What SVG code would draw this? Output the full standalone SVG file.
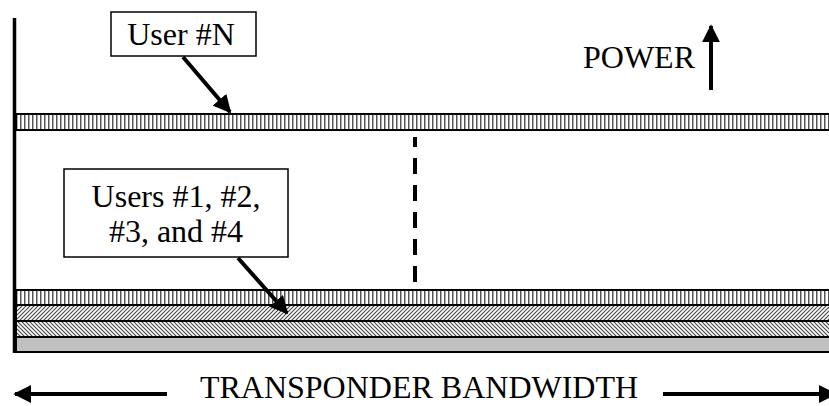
<svg xmlns="http://www.w3.org/2000/svg" width="829" height="406" viewBox="0 0 829 406">
<style>
text{font-family:"Liberation Serif","Times New Roman",serif;font-size:32px;fill:#000}
.box{fill:#fff;stroke:#000;stroke-width:1.5}
.bar{stroke:#000;stroke-width:2}
.conn{stroke:#000;stroke-width:4;fill:none}
</style>
<defs>
<pattern id="vert" patternUnits="userSpaceOnUse" width="4" height="4">
<rect width="4" height="4" fill="#fff"/>
<rect x="0" y="0" width="1.5" height="4" fill="#555"/>
</pattern>
<pattern id="fwd" patternUnits="userSpaceOnUse" width="4" height="4">
<rect width="4" height="4" fill="#fff"/>
<path d="M-1,1 L1,-1 M0,4 L4,0 M3,5 L5,3" stroke="#444" stroke-width="1.1"/>
</pattern>
<pattern id="back" patternUnits="userSpaceOnUse" width="4" height="4">
<rect width="4" height="4" fill="#fff"/>
<path d="M-1,3 L1,5 M0,0 L4,4 M3,-1 L5,1" stroke="#444" stroke-width="1.1"/>
</pattern>
<marker id="ah" viewBox="0 0 10 10" refX="9" refY="5" markerWidth="4.5" markerHeight="4.5" markerUnits="strokeWidth" orient="auto">
<path d="M0,0 L10,5 L0,10 z" fill="#000"/>
</marker>
</defs>
<rect width="829" height="406" fill="#fff"/>

<g id="bar-userN">
<rect class="bar" x="16" y="114" width="820" height="16" fill="url(#vert)" stroke="#555"/>
</g>
<g id="bar-users-1-4">
<rect class="bar" x="16" y="290" width="820" height="15" fill="url(#vert)"/>
<rect class="bar" x="16" y="305" width="820" height="16" fill="url(#fwd)"/>
<rect class="bar" x="16" y="321" width="820" height="16" fill="url(#back)"/>
<rect class="bar" x="16" y="337" width="820" height="15" fill="#c0c0c0"/>
</g>
<g id="axis">
<line x1="14.5" y1="18" x2="14.5" y2="353" stroke="#000" stroke-width="3.5"/>
</g>
<g id="divider">
<line x1="415" y1="137" x2="415" y2="283" stroke="#000" stroke-width="4" stroke-dasharray="16 11" stroke-dashoffset="6"/>
</g>
<g id="label-userN">
<rect class="box" x="111" y="12" width="145" height="44"/>
<text x="181" y="45" text-anchor="middle">User #N</text>
</g>
<g id="label-users">
<rect class="box" x="64" y="169" width="224" height="88"/>
<text x="176" y="207" text-anchor="middle">Users #1, #2,</text>
<text x="176" y="242" text-anchor="middle">#3, and #4</text>
</g>
<g id="label-power">
<text x="695" y="68" text-anchor="end">POWER</text>
</g>
<g id="label-bandwidth">
<text x="419" y="398" text-anchor="middle">TRANSPONDER BANDWIDTH</text>
</g>
<g id="connectors">
<line class="conn" x1="183" y1="57" x2="230" y2="112" marker-end="url(#ah)"/>
<line class="conn" x1="238" y1="258" x2="287" y2="313" marker-end="url(#ah)"/>
<line class="conn" x1="711" y1="90" x2="711" y2="26" marker-end="url(#ah)"/>
<line class="conn" x1="167" y1="394" x2="15" y2="394" marker-end="url(#ah)"/>
<line class="conn" x1="663" y1="394" x2="835" y2="394" marker-end="url(#ah)"/>
</g>
</svg>
